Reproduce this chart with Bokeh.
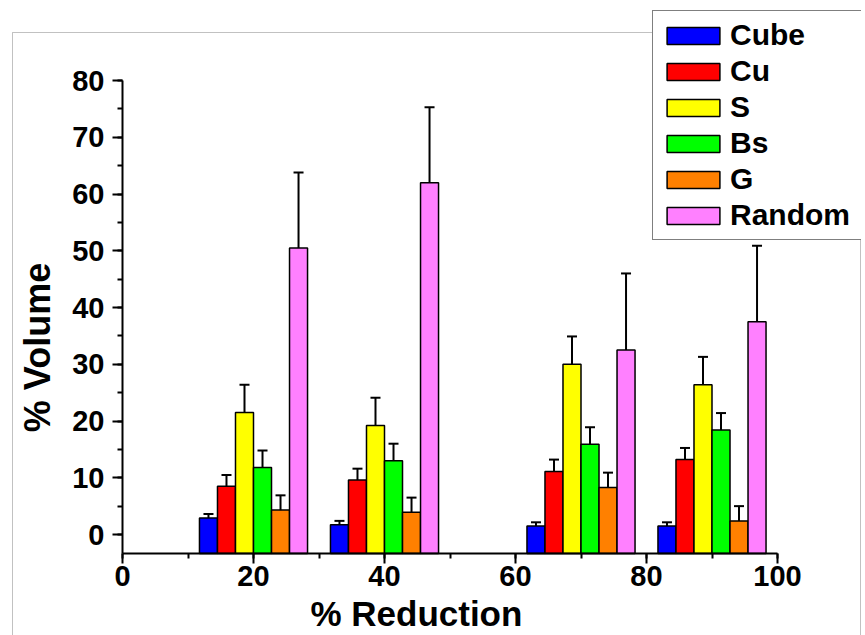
import numpy as np
from bokeh.plotting import figure
from bokeh.models import (Range1d, LinearAxis, SingleIntervalTicker, ColumnDataSource,
                          Whisker, TeeHead, Legend, LegendItem, Label, BoxAnnotation)
from bokeh.embed import file_html
from bokeh.resources import INLINE

# ---- data ----
reduction = [20, 40, 70, 90]
series = ["Cube", "Cu", "S", "Bs", "G", "Random"]
cube = [2.9, 1.7, 1.5, 1.5]
cube_err = [0.7, 0.7, 0.65, 0.65]
cu = [8.5, 9.6, 11.1, 13.2]
cu_err = [2.0, 2.0, 2.1, 2.05]
s_comp = [21.5, 19.2, 30.0, 26.4]
s_err = [4.9, 4.9, 4.9, 4.9]
bs = [11.8, 13.0, 15.9, 18.4]
bs_err = [3.0, 3.0, 3.0, 3.0]
g = [4.3, 3.9, 8.3, 2.4]
g_err = [2.6, 2.6, 2.6, 2.6]
random_comp = [50.5, 62.0, 32.5, 37.5]
random_err = [13.3, 13.3, 13.5, 13.4]
x_ticks = [0, 20, 40, 60, 80, 100]
y_ticks = [0, 10, 20, 30, 40, 50, 60, 70, 80]

values = [cube, cu, s_comp, bs, g, random_comp]
errors = [cube_err, cu_err, s_err, bs_err, g_err, random_err]
colors = ["#0000FF", "#FF0000", "#FFFF00", "#00FF00", "#FF8000", "#FF80FF"]

# ---- layout ----
Y_MIN = -3.35
BAR_W = 2.75
FONT = "Liberation Sans"

p = figure(width=862, height=635, output_backend="svg", toolbar_location=None,
           x_range=Range1d(-16.947, 112.824), y_range=Range1d(-17.797, 94.097),
           x_axis_type=None, y_axis_type=None,
           min_border_left=11, min_border_top=0, min_border_right=1, min_border_bottom=0)
p.outline_line_color = None
p.background_fill_color = "white"
p.border_fill_color = "white"

# outer layer box (open at the bottom, like the reference)
p.add_layout(BoxAnnotation(left=-16.794, right=112.672, top=88.458, bottom=-25,
                           fill_color=None, fill_alpha=0, line_color="#333333",
                           line_width=1, level="underlay"))

xaxis = LinearAxis(fixed_location=Y_MIN, bounds=(x_ticks[0], x_ticks[-1]),
                   ticker=SingleIntervalTicker(interval=20, num_minor_ticks=2))
yaxis = LinearAxis(fixed_location=0, bounds=(Y_MIN, y_ticks[-1]),
                   ticker=SingleIntervalTicker(interval=10, num_minor_ticks=2))
for ax in (xaxis, yaxis):
    ax.axis_line_width = 2
    ax.axis_line_color = "black"
    ax.major_tick_line_width = 2
    ax.minor_tick_line_width = 2
    ax.major_tick_out = 10
    ax.major_tick_in = 0
    ax.minor_tick_out = 5
    ax.minor_tick_in = 0
    ax.major_label_text_font = FONT
    ax.major_label_text_font_style = "bold"
    ax.major_label_text_font_size = "29px"
    ax.major_label_text_color = "black"
xaxis.major_label_standoff = 2
yaxis.major_label_standoff = 8
p.add_layout(xaxis, "below")
p.add_layout(yaxis, "left")

items = []
for i, (name, vals, errs, col) in enumerate(zip(series, values, errors, colors)):
    xs = np.array(reduction, dtype=float) + (i - 2.5) * BAR_W
    v = np.array(vals)
    e = np.array(errs)
    src = ColumnDataSource(dict(x=xs, top=v, upper=v + e, lower=v - e))
    r = p.vbar(x="x", top="top", bottom=Y_MIN, width=BAR_W, source=src,
               fill_color=col, line_color="black", line_width=1.5)
    w = Whisker(source=src, base="x", upper="upper", lower="lower", dimension="height",
                line_color="black", line_width=2,
                upper_head=TeeHead(size=10, line_width=2, line_color="black"),
                lower_head=TeeHead(size=10, line_width=2, line_color="black"))
    p.add_layout(w)
    items.append(LegendItem(label=name, renderers=[r]))

legend = Legend(items=items, location=(641, 395),
                glyph_width=66, glyph_height=21, label_standoff=4, label_width=124,
                label_text_font=FONT, label_text_font_style="bold",
                label_text_font_size="30px", label_text_color="black",
                padding=7, spacing=2, margin=0,
                border_line_color="black", border_line_width=1,
                background_fill_color="white", background_fill_alpha=1)
p.add_layout(legend, "center")

p.add_layout(Label(x=44.87, y=-13.885, text="% Reduction", text_align="center",
                   text_baseline="alphabetic", text_font=FONT, text_font_style="bold",
                   text_font_size="35px", text_color="black"))
p.add_layout(Label(x=-13.05, y=32.95, text="% Volume", angle=np.pi / 2, text_align="center",
                   text_baseline="alphabetic", text_font=FONT, text_font_style="bold",
                   text_font_size="36px", text_color="black"))

open("out.html", "w").write(file_html(p, INLINE))
